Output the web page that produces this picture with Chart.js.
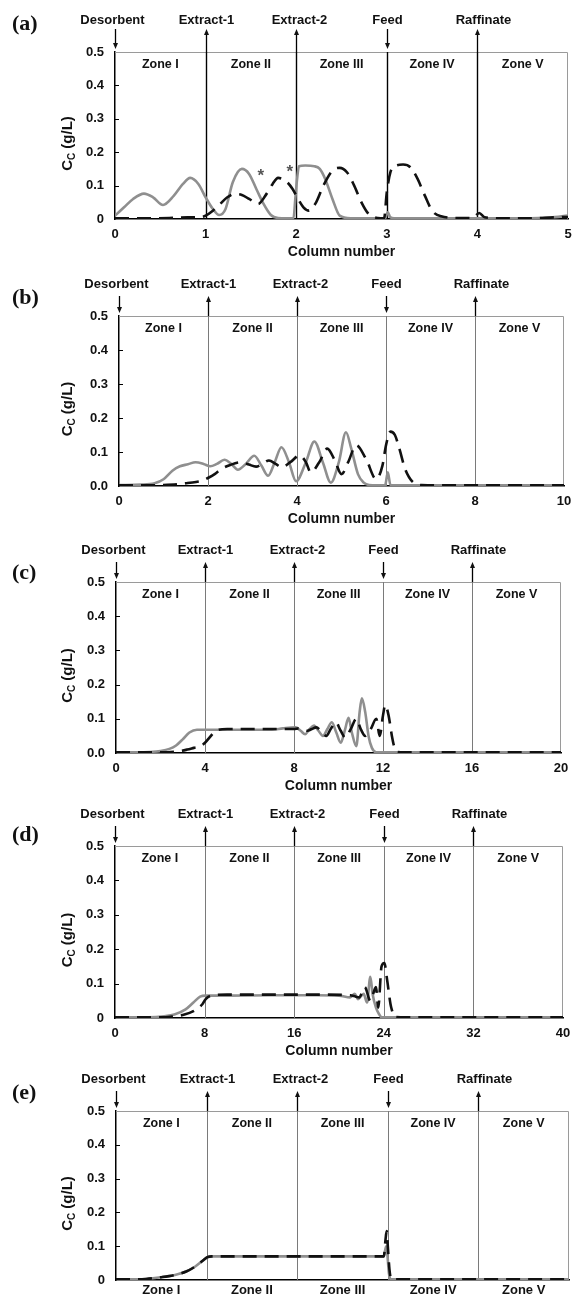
<!DOCTYPE html>
<html>
<head>
<meta charset="utf-8">
<script src="https://cdn.jsdelivr.net/npm/chart.js@4.4.1/dist/chart.umd.min.js"></script>
<style>
  html,body{margin:0;padding:0;background:#fff;}
  body{width:573px;height:1300px;position:relative;overflow:hidden;}
  canvas{position:absolute;left:0;}
</style>
</head>
<body>
<canvas id="pa"></canvas>
<canvas id="pb"></canvas>
<canvas id="pc"></canvas>
<canvas id="pd"></canvas>
<canvas id="pe"></canvas>
<script>
// ---- data ----
const ZONE_NAMES = ["Zone I","Zone II","Zone III","Zone IV","Zone V"];
const PORT_NAMES = ["Desorbent","Extract-1","Extract-2","Feed","Raffinate"];
const PORT_DIRS  = ["down","up","up","down","up"];

const EDGES_A = [0,1,2,3,4,5];
const EDGES_B = [0,2,4,6,8,10];
const EDGES_C = [0,4,8,12,16,20];
const EDGES_D = [0,8,16,24,32,40];
const EDGES_E = [0,16,32,48,64,80];
const E_ZONE_MID = [8,24,40,56,72];

// (a) 5 columns
const A_GRAY_X = [0,0.1,0.2,0.32,0.42,0.53,0.65,0.75,0.83,0.92,1.0,1.08,1.15,1.22,1.3,1.4,1.48,1.56,1.64,1.72,1.8,1.9,1.97,1.99,2.01,2.03,2.1,2.2,2.26,2.32,2.4,2.48,2.6,2.8,2.98,3.01,3.04,3.08,3.3,3.6,4.0,4.5,4.8,5.0];
const A_GRAY_Y = [0.01,0.035,0.06,0.076,0.065,0.042,0.07,0.105,0.123,0.105,0.065,0.03,0.012,0.03,0.11,0.15,0.135,0.09,0.045,0.012,0.003,0.002,0.002,0.06,0.12,0.158,0.16,0.158,0.15,0.12,0.06,0.01,0.002,0.002,0.002,0.02,0.005,0.002,0.002,0.002,0.002,0.002,0.004,0.01];
const A_DASH_X = [0,0.3,0.6,0.8,0.95,1.0,1.08,1.16,1.24,1.32,1.4,1.48,1.58,1.66,1.74,1.8,1.88,1.96,2.02,2.08,2.14,2.22,2.3,2.4,2.48,2.56,2.64,2.72,2.8,2.9,2.97,3.0,3.04,3.1,3.18,3.26,3.34,3.42,3.5,3.6,3.8,3.95,4.02,4.08,4.3,4.6,4.85,5.0];
const A_DASH_Y = [0.002,0.002,0.003,0.005,0.006,0.01,0.025,0.045,0.065,0.075,0.072,0.06,0.045,0.07,0.105,0.123,0.115,0.09,0.06,0.035,0.025,0.05,0.1,0.145,0.153,0.14,0.1,0.05,0.015,0.003,0.002,0.08,0.14,0.16,0.163,0.155,0.12,0.07,0.025,0.008,0.003,0.003,0.018,0.005,0.002,0.002,0.005,0.006];
const STAR_X = [1.61,1.93];
const STAR_Y = [0.136,0.148];

// (b) 10 columns
const B_GRAY_X = [0,0.5,0.8,1.0,1.2,1.37,1.55,1.72,1.9,2.05,2.2,2.37,2.52,2.67,2.85,3.04,3.2,3.35,3.5,3.65,3.82,3.98,4.2,4.39,4.58,4.76,4.94,5.1,5.22,5.37,5.5,5.62,5.8,5.98,6.04,6.1,6.3,7,8,9,10];
const B_GRAY_Y = [0.003,0.004,0.008,0.02,0.045,0.058,0.064,0.07,0.065,0.058,0.065,0.077,0.065,0.048,0.065,0.089,0.06,0.03,0.07,0.114,0.07,0.014,0.07,0.131,0.07,0.01,0.07,0.158,0.11,0.035,0.01,0.003,0.002,0.002,0.04,0.003,0.002,0.002,0.002,0.002,0.002];
const B_DASH_X = [0,0.5,1.0,1.3,1.5,1.73,1.85,2.02,2.15,2.3,2.5,2.75,2.92,3.08,3.22,3.37,3.52,3.65,3.85,4.06,4.2,4.31,4.5,4.68,4.85,5.0,5.15,5.33,5.55,5.78,5.92,6.0,6.1,6.2,6.3,6.43,6.6,6.8,7.5,8.5,10];
const B_DASH_Y = [0.002,0.002,0.003,0.005,0.008,0.012,0.015,0.025,0.035,0.05,0.062,0.07,0.063,0.057,0.065,0.075,0.065,0.055,0.07,0.09,0.07,0.04,0.07,0.11,0.075,0.035,0.07,0.12,0.08,0.02,0.06,0.12,0.16,0.15,0.11,0.05,0.012,0.003,0.002,0.002,0.002];

// (c) 20 columns
const C_GRAY_X = [0,1,1.5,2.0,2.4,2.7,3.0,3.3,3.64,4,5,6,7,7.5,8.07,8.3,8.5,8.7,8.9,9.1,9.3,9.5,9.7,9.9,10.1,10.3,10.45,10.6,10.8,10.95,11.05,11.2,11.35,11.5,11.7,12,14,16,18,20];
const C_GRAY_Y = [0.002,0.002,0.003,0.006,0.012,0.022,0.04,0.06,0.068,0.068,0.068,0.068,0.068,0.072,0.075,0.065,0.055,0.07,0.08,0.065,0.05,0.07,0.09,0.06,0.03,0.07,0.103,0.06,0.02,0.12,0.16,0.12,0.05,0.015,0.002,0.002,0.002,0.002,0.002,0.002];
const C_DASH_X = [0,2,2.8,3.2,3.5,3.8,4.0,4.2,4.4,4.6,5,6,7,8,8.2,8.4,8.6,8.8,9.0,9.2,9.45,9.65,9.87,10.1,10.3,10.55,10.8,11.0,11.2,11.45,11.7,11.85,12.0,12.1,12.25,12.4,12.5,12.66,13,16,20];
const C_DASH_Y = [0.002,0.002,0.005,0.01,0.015,0.02,0.03,0.045,0.06,0.068,0.07,0.07,0.07,0.07,0.072,0.068,0.065,0.07,0.075,0.065,0.05,0.07,0.09,0.065,0.045,0.07,0.1,0.07,0.05,0.07,0.1,0.05,0.11,0.14,0.11,0.05,0.02,0.003,0.002,0.002,0.002];

// (d) 40 columns
const D_GRAY_X = [0,3,4.4,5.3,6.3,7.0,7.6,8.1,10,14,18,20,21.0,21.4,21.7,22.0,22.2,22.5,22.8,23.0,23.3,23.6,23.8,24.2,28,32,36,40];
const D_GRAY_Y = [0.002,0.002,0.005,0.01,0.025,0.045,0.062,0.065,0.065,0.066,0.066,0.065,0.06,0.07,0.055,0.065,0.07,0.045,0.12,0.07,0.03,0.01,0.002,0.002,0.002,0.002,0.002,0.002];
const D_DASH_X = [0,4.5,5.3,6.2,7.0,7.8,8.1,8.6,10,14,18,21,21.5,21.8,22.3,22.8,23.3,23.5,23.8,24.05,24.3,24.6,24.75,24.9,26,30,35,40];
const D_DASH_Y = [0.002,0.002,0.005,0.01,0.02,0.04,0.055,0.065,0.068,0.068,0.068,0.066,0.062,0.06,0.09,0.05,0.09,0.03,0.15,0.16,0.11,0.04,0.02,0.004,0.002,0.002,0.002,0.002];

// (e) 80 columns
const E_GRAY_X = [0,4,5.3,7.9,10.4,12.4,14.0,15.3,16.2,16.9,20,30,40,47.3,47.7,47.9,48.2,48.5,50,60,70,80];
const E_GRAY_Y = [0.002,0.002,0.003,0.008,0.015,0.025,0.04,0.057,0.068,0.07,0.07,0.07,0.07,0.07,0.1,0.08,0.02,0.002,0.002,0.002,0.002,0.002];
const E_DASH_X = [0,4,5.3,7.9,10.4,12.4,14.0,15.3,16.2,16.9,20,30,40,47.3,47.6,47.8,48.0,48.3,48.6,50,60,70,80];
const E_DASH_Y = [0.002,0.002,0.003,0.008,0.015,0.025,0.04,0.057,0.068,0.07,0.07,0.07,0.07,0.07,0.12,0.145,0.1,0.03,0.003,0.002,0.002,0.002,0.002];

const PANELS = [
  {id:"pa", letter:"(a)", edges:EDGES_A, gx:A_GRAY_X, gy:A_GRAY_Y, dx:A_DASH_X, dy:A_DASH_Y, zero:"0", stars:true},
  {id:"pb", letter:"(b)", edges:EDGES_B, gx:B_GRAY_X, gy:B_GRAY_Y, dx:B_DASH_X, dy:B_DASH_Y, zero:"0.0"},
  {id:"pc", letter:"(c)", edges:EDGES_C, gx:C_GRAY_X, gy:C_GRAY_Y, dx:C_DASH_X, dy:C_DASH_Y, zero:"0.0"},
  {id:"pd", letter:"(d)", edges:EDGES_D, gx:D_GRAY_X, gy:D_GRAY_Y, dx:D_DASH_X, dy:D_DASH_Y, zero:"0"},
  {id:"pe", letter:"(e)", edges:EDGES_E, gx:E_GRAY_X, gy:E_GRAY_Y, dx:E_DASH_X, dy:E_DASH_Y, zero:"0", zoneTicks:E_ZONE_MID},
];

// ---- layout (page pixels) ----
const LAYOUT = {
  pa:{top:0,    h:262, pt:52,   pb:219,  pl:115, pr:568, ly:24,   arrowOff:23, lineColor:"#000", lineW:1.4},
  pb:{top:262,  h:266, pt:316,  pb:486,  pl:119, pr:564, ly:298,  arrowOff:20, lineColor:"#7a7a7a", lineW:1},
  pc:{top:528,  h:268, pt:582,  pb:753,  pl:116, pr:561, ly:573,  arrowOff:20, lineColor:"#7a7a7a", lineW:1},
  pd:{top:796,  h:264, pt:846,  pb:1018, pl:115, pr:563, ly:835,  arrowOff:20, lineColor:"#7a7a7a", lineW:1},
  pe:{top:1060, h:240, pt:1111, pb:1280, pl:116, pr:569, ly:1093, arrowOff:20, lineColor:"#7a7a7a", lineW:1},
};
const PORT_NUDGE = [-3,0,3,0,6];
const FONT = "'Liberation Sans', Arial, sans-serif";

Chart.defaults.font.family = FONT;
Chart.defaults.color = "#111";

function vline(ctx, x, y1, y2) { ctx.beginPath(); ctx.moveTo(x, y1); ctx.lineTo(x, y2); ctx.stroke(); }

const decor = {
  id: "decor",
  beforeDatasetsDraw(chart, args, o) {
    const {ctx, chartArea: a, scales: {x}} = chart;
    ctx.save();
    ctx.strokeStyle = "#9a9a9a"; ctx.lineWidth = 1;
    ctx.beginPath();
    ctx.moveTo(a.left, a.top + 0.5); ctx.lineTo(a.right - 0.5, a.top + 0.5); ctx.lineTo(a.right - 0.5, a.bottom);
    ctx.stroke();
    ctx.strokeStyle = o.lineColor; ctx.lineWidth = o.lineW;
    o.edges.slice(1, -1).forEach(v => vline(ctx, Math.round(x.getPixelForValue(v)) + 0.5, a.top, a.bottom));
    ctx.fillStyle = "#111"; ctx.font = "bold 12.5px " + FONT;
    ctx.textAlign = "center"; ctx.textBaseline = "middle";
    ZONE_NAMES.forEach((n, i) => {
      const cx = (x.getPixelForValue(o.edges[i]) + x.getPixelForValue(o.edges[i + 1])) / 2;
      ctx.fillText(n, cx, a.top + 13);
    });
    ctx.restore();
  },
  afterDatasetsDraw(chart, args, o) {
    if (!o.stars) return;
    const {ctx, scales: {x, y}} = chart;
    ctx.save();
    ctx.fillStyle = "#555"; ctx.font = "bold 17px " + FONT;
    ctx.textAlign = "center"; ctx.textBaseline = "middle";
    STAR_X.forEach((v, i) => ctx.fillText("*", x.getPixelForValue(v), y.getPixelForValue(STAR_Y[i]) + 3));
    ctx.restore();
  },
  afterDraw(chart, args, o) {
    const {ctx, chartArea: a, scales: {x, y}} = chart;
    ctx.save();
    // inward tick marks on the y axis
    ctx.strokeStyle = "#000"; ctx.lineWidth = 1;
    y.ticks.forEach(t => {
      if (t.value <= 0 || t.value >= 0.5) return;
      const py = Math.round(y.getPixelForValue(t.value)) + 0.5;
      ctx.beginPath(); ctx.moveTo(a.left, py); ctx.lineTo(a.left + 4, py); ctx.stroke();
    });
    // inlet / outlet ports
    ctx.fillStyle = "#111"; ctx.font = "bold 13px " + FONT;
    ctx.textAlign = "center"; ctx.textBaseline = "middle";
    ctx.lineWidth = 1.3;
    PORT_NAMES.forEach((n, i) => {
      const px = Math.round(x.getPixelForValue(o.edges[i])) + 0.5;
      ctx.fillText(n, px + PORT_NUDGE[i], a.top - 32);
      const top = a.top - o.arrowOff;
      if (PORT_DIRS[i] === "up") {
        vline(ctx, px, top + 4, a.top);
        ctx.beginPath(); ctx.moveTo(px, top); ctx.lineTo(px - 2.5, top + 6); ctx.lineTo(px + 2.5, top + 6); ctx.closePath(); ctx.fill();
      } else {
        const tip = a.top - 3;
        vline(ctx, px, top, tip - 4);
        ctx.beginPath(); ctx.moveTo(px, tip); ctx.lineTo(px - 2.5, tip - 6); ctx.lineTo(px + 2.5, tip - 6); ctx.closePath(); ctx.fill();
      }
    });
    // panel letter
    ctx.font = "bold 22px 'Liberation Serif', serif";
    ctx.textAlign = "left";
    ctx.fillText(o.letter, 12, o.letterY);
    // y title with subscript
    ctx.translate(67, (a.top + a.bottom) / 2 + 8);
    ctx.rotate(-Math.PI / 2);
    const big = "bold 15px " + FONT, small = "bold 10px " + FONT;
    ctx.font = big;
    const w1 = ctx.measureText("C").width, w3 = ctx.measureText(" (g/L)").width;
    ctx.font = small;
    const w2 = ctx.measureText("C").width;
    let sx = -(w1 + w2 + w3) / 2;
    ctx.textBaseline = "alphabetic";
    ctx.font = big; ctx.fillText("C", sx, 5); sx += w1;
    ctx.font = small; ctx.fillText("C", sx, 8); sx += w2;
    ctx.font = big; ctx.fillText(" (g/L)", sx, 5);
    ctx.restore();
  }
};

function buildPanel(p) {
  const g = LAYOUT[p.id];
  const cv = document.getElementById(p.id);
  cv.width = 573; cv.height = g.h;
  cv.style.width = "573px"; cv.style.height = g.h + "px"; cv.style.top = g.top + "px";
  const ptRel = g.pt - g.top, pbRel = g.pb - g.top;
  const xH = g.h - pbRel;
  const tickFont = {family: FONT, size: 13, weight: "bold"};
  const xScale = {
    type: "linear", min: p.edges[0], max: p.edges[5],
    grid: {display: false, drawTicks: false},
    border: {color: "#000", width: 1.5},
    ticks: {stepSize: p.edges[1], padding: 8, color: "#111", font: tickFont, maxRotation: 0},
    title: {display: true, text: "Column number", color: "#111",
            font: {family: FONT, size: 14, weight: "bold"},
            padding: {top: 0, bottom: g.h - 8.4 - (pbRel + 33)}},
    afterFit: s => { s.height = xH; s.paddingLeft = 0; s.paddingRight = 0; },
  };
  if (p.zoneTicks) {
    xScale.title.display = false;
    xScale.ticks.padding = 3;
    xScale.afterBuildTicks = s => { s.ticks = p.zoneTicks.map(v => ({value: v})); };
    xScale.ticks.callback = (v, i) => ZONE_NAMES[i];
  }
  new Chart(cv, {
    type: "line",
    data: {
      datasets: [
        {label: "dashed", data: p.dx.map((v, i) => ({x: v, y: p.dy[i]})),
         borderColor: "#111", borderWidth: 2.6, borderDash: [14, 8], pointRadius: 0,
         cubicInterpolationMode: "monotone"},
        {label: "gray", data: p.gx.map((v, i) => ({x: v, y: p.gy[i]})),
         borderColor: "#8f8f8f", borderWidth: 2.6, pointRadius: 0,
         cubicInterpolationMode: "monotone"},
      ],
    },
    options: {
      responsive: false, animation: false, devicePixelRatio: 1,
      layout: {padding: {top: ptRel, right: 573 - g.pr, left: 0, bottom: 0}},
      plugins: {
        legend: {display: false}, tooltip: {enabled: false},
        decor: {edges: p.edges, letter: p.letter, letterY: g.ly - g.top, arrowOff: g.arrowOff,
                lineColor: g.lineColor, lineW: g.lineW, stars: !!p.stars},
      },
      scales: {
        x: xScale,
        y: {
          min: 0, max: 0.5,
          grid: {display: false, drawTicks: false},
          border: {color: "#000", width: 1.5},
          ticks: {stepSize: 0.1, padding: 11, color: "#111", font: tickFont,
                  callback: v => (Math.abs(v) < 1e-9 ? p.zero : v.toFixed(1))},
          afterFit: s => { s.width = g.pl; s.paddingTop = 0; s.paddingBottom = 0; },
        },
      },
    },
    plugins: [decor],
  });
}

PANELS.forEach(buildPanel);
</script>
</body>
</html>
